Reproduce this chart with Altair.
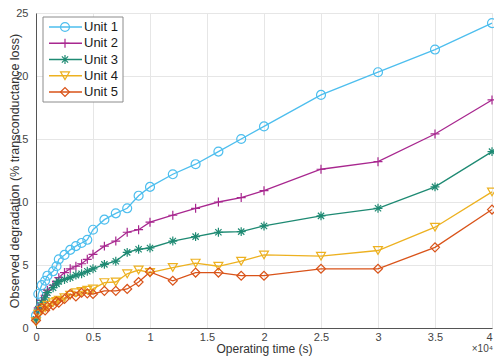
import altair as alt
import pandas as pd

# Operating time in units of 10^4 s
times = [0, 0.02, 0.05, 0.08, 0.1, 0.15, 0.18, 0.2, 0.25, 0.3, 0.35, 0.4, 0.45, 0.5,
         0.6, 0.7, 0.8, 0.9, 1.0, 1.2, 1.4, 1.6, 1.8, 2.0, 2.5, 3.0, 3.5, 4.0]

units = ["Unit 1", "Unit 2", "Unit 3", "Unit 4", "Unit 5"]

unit1 = [1.0, 2.7, 3.4, 3.75, 4.15, 4.5, 4.9, 5.45, 5.8, 6.2, 6.5, 6.75, 7.0, 7.8,
         8.6, 9.1, 9.5, 10.5, 11.2, 12.2, 13.0, 14.0, 15.0, 16.0, 18.5, 20.3, 22.1, 24.2]
unit2 = [0.8, 1.6, 2.2, 2.6, 3.0, 3.4, 3.7, 4.0, 4.4, 4.7, 4.9, 5.1, 5.45, 5.85,
         6.5, 6.9, 7.6, 7.8, 8.4, 8.95, 9.5, 10.0, 10.35, 10.9, 12.6, 13.2, 15.4, 18.1]
unit3 = [0.7, 1.5, 2.0, 2.4, 2.8, 3.2, 3.5, 3.7, 3.85, 4.0, 4.2, 4.3, 4.5, 4.7,
         5.05, 5.3, 6.0, 6.25, 6.35, 6.9, 7.25, 7.6, 7.65, 8.1, 8.9, 9.5, 11.2, 14.0]
unit4 = [0.5, 1.1, 1.4, 1.6, 1.8, 2.0, 2.1, 2.2, 2.4, 2.6, 2.8, 2.9, 3.0, 3.1,
         3.6, 3.65, 4.3, 4.6, 4.4, 4.8, 5.15, 4.9, 5.3, 5.8, 5.7, 6.15, 8.0, 10.8]
unit5 = [0.6, 1.2, 1.6, 1.4, 1.7, 1.8, 2.1, 2.0, 2.3, 2.7, 2.5, 2.8, 2.75, 2.7,
         2.95, 2.95, 3.1, 3.65, 4.45, 3.75, 4.4, 4.4, 4.15, 4.15, 4.7, 4.7, 6.4, 9.4]

series = [unit1, unit2, unit3, unit4, unit5]
colors = ["#4DBEEE", "#A8278F", "#1E8A73", "#EDB120", "#D95319"]
shapes = [
    "circle",
    "M-1,0H1M0,-1V1",
    "M-1,0H1M0,-1V1M-0.7,-0.7L0.7,0.7M-0.7,0.7L0.7,-0.7",
    "triangle-down",
    "diamond",
]
sizes = [80, 80, 70, 70, 70]

rows = []
for name, vals in zip(units, series):
    for t, v in zip(times, vals):
        rows.append({"unit": name, "t": t, "v": v})
df = pd.DataFrame(rows)

W, H = 456, 315
FONT = "Liberation Sans"

color_scale = alt.Scale(domain=units, range=colors)
shape_scale = alt.Scale(domain=units, range=shapes)
size_scale = alt.Scale(domain=units, range=sizes)

x_enc = alt.X(
    "t:Q",
    scale=alt.Scale(domain=[0, 4], nice=False),
    axis=alt.Axis(
        values=[0, 0.5, 1, 1.5, 2, 2.5, 3, 3.5, 4],
        format="~g",
        title="Operating time (s)",
        titleFont=FONT, titleFontSize=12, titleFontWeight="normal", titleColor="#333333",
        titleY=15, titleBaseline="top",
        labelFont=FONT, labelFontSize=11, labelColor="#444444", labelPadding=3,
        labelAlign=alt.condition("datum.value == 4", alt.value("right"), alt.value("center")),
        tickSize=0, domainColor="#555555", domainWidth=1,
        gridColor="#e6e6e6", gridWidth=1, labelFlush=False,
    ),
)
y_enc = alt.Y(
    "v:Q",
    scale=alt.Scale(domain=[0, 25], nice=False),
    axis=alt.Axis(
        values=[0, 5, 10, 15, 20, 25],
        format="~g",
        title="Observed degradation (% transconductance loss)",
        titleFont=FONT, titleFontSize=12.5, titleFontWeight="normal", titleColor="#333333",
        titleX=-15, titleBaseline="bottom",
        labelFont=FONT, labelFontSize=11, labelColor="#444444", labelPadding=8,
        tickSize=0, domainColor="#555555", domainWidth=1,
        gridColor="#e6e6e6", gridWidth=1,
    ),
)

lines = alt.Chart(df).mark_line(strokeWidth=1.3).encode(
    x=x_enc, y=y_enc,
    color=alt.Color("unit:N", scale=color_scale, legend=None),
    detail="unit:N",
)
points = alt.Chart(df).mark_point(filled=False, strokeWidth=1.2, opacity=1).encode(
    x="t:Q", y="v:Q",
    color=alt.Color("unit:N", scale=color_scale, legend=None),
    shape=alt.Shape("unit:N", scale=shape_scale, legend=None),
    size=alt.Size("unit:N", scale=size_scale, legend=None),
)

xlabel_df = pd.DataFrame({"t": [4.0], "txt": ["\u00d710\u2074"]})
exp_text = alt.Chart(xlabel_df).mark_text(
    font=FONT, fontSize=10, color="#444444", align="right", baseline="alphabetic", dx=1
).encode(x="t:Q", y=alt.value(H + 24), text="txt:N")

main = alt.layer(lines, points, exp_text)

# custom MATLAB-like legend (positions relative to the plot area)
leg_df = pd.DataFrame({"unit": units})
leg_y = alt.Y("unit:N", scale=alt.Scale(type="point", domain=units, range=[14, 79], padding=0), axis=None)
box = alt.Chart(pd.DataFrame({"a": [0]})).mark_rect(
    fill="white", stroke="#8c8c8c", strokeWidth=1
).encode(x=alt.value(7), x2=alt.value(87), y=alt.value(4), y2=alt.value(89))
leg_lines = alt.Chart(leg_df).mark_rule(strokeWidth=1.3).encode(
    x=alt.value(13), x2=alt.value(46), y=leg_y,
    color=alt.Color("unit:N", scale=color_scale, legend=None),
)
leg_pts = alt.Chart(leg_df).mark_point(filled=False, strokeWidth=1.2, opacity=1).encode(
    x=alt.value(29), y=leg_y,
    color=alt.Color("unit:N", scale=color_scale, legend=None),
    shape=alt.Shape("unit:N", scale=shape_scale, legend=None),
    size=alt.Size("unit:N", scale=size_scale, legend=None),
)
leg_txt = alt.Chart(leg_df).mark_text(
    font=FONT, fontSize=13, color="#1a1a1a", align="left", baseline="middle"
).encode(x=alt.value(48), y=leg_y, text="unit:N")

legend = alt.layer(box, leg_lines, leg_pts, leg_txt)

chart = alt.layer(main, legend).resolve_scale(y="independent").properties(
    width=W, height=H,
    autosize=alt.AutoSizeParams(type="none"),
    padding={"left": 28, "top": 5, "right": 2, "bottom": 28},
).configure_view(stroke=None).configure(background="white")

chart.save("out.html", embed_options={"renderer": "svg", "actions": False})
